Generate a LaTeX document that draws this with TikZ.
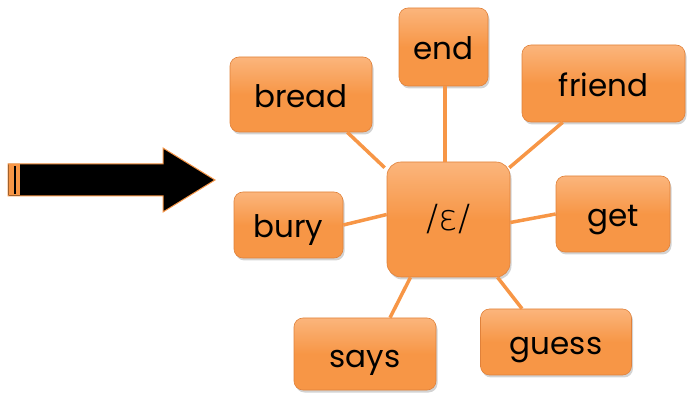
\documentclass[tikz,border=0pt]{standalone}
\usepackage{fontspec}
\setmainfont{Poppins}
\newfontfamily\ipafont{DejaVu Sans ExtraLight}
\usetikzlibrary{shadows}
\definecolor{orfill}{HTML}{F79646}
\definecolor{orlight}{HTML}{FBB57C}
\definecolor{oredge}{HTML}{E0813A}
\tikzset{
  wbox/.style={draw=oredge, line width=0.6pt, rounded corners=9pt,
    top color=orlight, bottom color=orfill, middle color=orfill,
    drop shadow={shadow xshift=1.5pt, shadow yshift=-2.5pt, opacity=0.35},
    inner sep=0pt, font=\fontsize{31}{34}\selectfont},
  word/.style={wbox, text height=26pt, text depth=0pt},
  link/.style={draw=orfill, line width=3.5pt}
}
\begin{document}
\begin{tikzpicture}[x=1pt,y=-1pt]
\useasboundingbox (0,0) rectangle (691,395);
% arrow
\draw[draw=orfill, line width=1pt, fill=black]
  (8,164) -- (163,164) -- (163,148) -- (215,180) -- (163,212) -- (163,196) -- (8,196) -- cycle;
\fill[orfill] (8.5,164.5) rectangle (20,195.5);
\draw[black, line width=1.2pt] (15,166) -- (15,194);
% nodes
\node[wbox, minimum width=123pt, minimum height=115pt, rounded corners=14pt] (c) at (448.5,219.5) {\fontsize{36}{40}\selectfont\ipafont /ɛ/};
\node[word, minimum width=89pt, minimum height=78pt] (end) at (443.5,47) {end};
\node[word, minimum width=142pt, minimum height=75pt] (bread) at (301,94.5) {bread};
\node[word, minimum width=163pt, minimum height=77pt] (friend) at (603.5,83.5) {friend};
\node[word, minimum width=109pt, minimum height=66pt] (bury) at (288.5,225) {bury};
\node[word, minimum width=114pt, minimum height=76pt] (get) at (613,214) {get};
\node[word, minimum width=142pt, minimum height=72pt] (says) at (365,354) {says};
\node[word, minimum width=151pt, minimum height=66pt] (guess) at (556,342) {guess};
% links
\draw[link] ([xshift=1.5pt]end.south) -- ([xshift=-3.5pt]c.north);
\draw[link] ([xshift=-25pt]bread.south east) -- ([shift={(-2,6)}]c.north west);
\draw[link] ([xshift=41pt]friend.south west) -- ([shift={(-1,6)}]c.north east);
\draw[link] (bury.east) -- ([yshift=5pt]c.west);
\draw[link] (get.west) -- ([yshift=-3pt]c.east);
\draw[link] ([xshift=25pt]says.north) -- ([xshift=-38pt]c.south);
\draw[link] ([xshift=-34pt]guess.north) -- ([xshift=49pt]c.south);
\end{tikzpicture}
\end{document}
